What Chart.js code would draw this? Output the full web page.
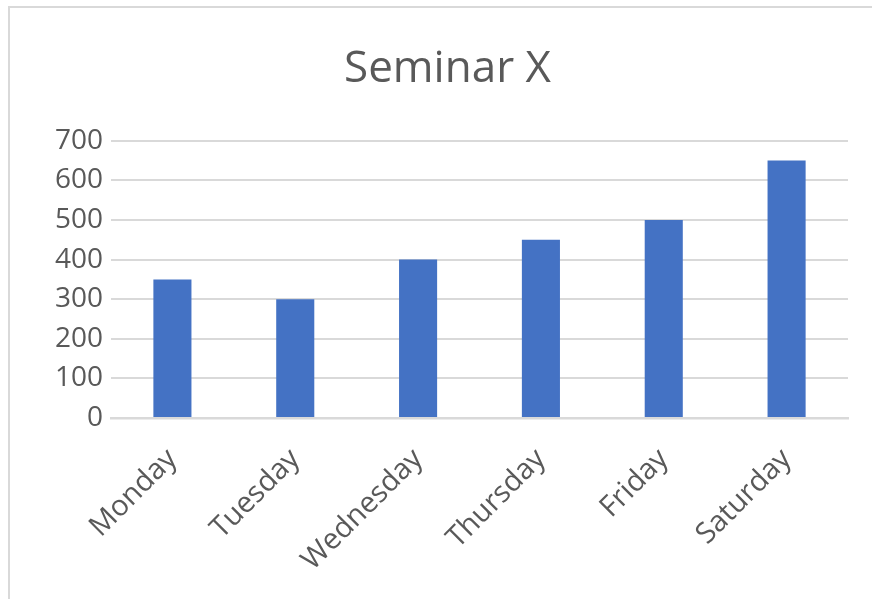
<!DOCTYPE html>
<html>
<head>
<meta charset="utf-8">
<script src="https://cdn.jsdelivr.net/npm/chart.js@4/dist/chart.umd.min.js"></script>
<style>
  body { margin: 0; background: #fff; overflow: hidden; }
  #frame { position: absolute; left: 8px; top: 6px; width: 900px; height: 700px;
           border: 2px solid #d9d9d9; box-sizing: border-box; }
  #wrap { position: absolute; left: 0; top: 0; width: 872px; height: 599px; }
</style>
</head>
<body>
<div id="frame"></div>
<div id="wrap"><canvas id="seminarChart" width="872" height="599"></canvas></div>
<script>
// chart data
var days = ["Monday", "Tuesday", "Wednesday", "Thursday", "Friday", "Saturday"];
var attendees = [350, 300, 400, 450, 500, 650];
var yTicks = [0, 100, 200, 300, 400, 500, 600, 700];

var textGray = '#595959';
var gridGray = '#d9d9d9';

var ctx = document.getElementById('seminarChart').getContext("2d");

var chart = new Chart(ctx, {
    type: 'bar',
    data: {
        labels: days,
        datasets: [{
            label: "Seminar X",
            data: attendees,
            backgroundColor: '#4472c4',
            barPercentage: 0.31,
            categoryPercentage: 1
        }]
    },
    options: {
        responsive: false,
        animation: false,
        layout: {
            padding: { left: 23, right: 0, top: 0, bottom: 0 }
        },
        plugins: {
            legend: { display: false },
            tooltip: { enabled: false },
            title: {
                display: true,
                text: 'Seminar X',
                color: textGray,
                font: { family: 'Open Sans', size: 44, weight: 'normal', lineHeight: 1.2 },
                padding: { top: 43, bottom: 45 }
            }
        },
        scales: {
            x: {
                grid: { display: false, drawTicks: false },
                border: { display: true, color: gridGray, width: 2.5 },
                ticks: {
                    color: textGray,
                    font: { family: 'Open Sans', size: 29 },
                    minRotation: 45,
                    maxRotation: 45,
                    padding: 24
                },
                afterFit: function(scale) { scale.height = 181; }
            },
            y: {
                min: 0,
                max: 700,
                border: { display: false },
                grid: { color: gridGray, lineWidth: 2, drawTicks: false },
                afterBuildTicks: function(scale) {
                    scale.ticks = yTicks.map(function(v) { return { value: v }; });
                },
                ticks: {
                    color: textGray,
                    font: { family: 'Open Sans', size: 28 },
                    padding: 8
                },
                afterFit: function(scale) { scale.width = 88; }
            },
            // empty right gutter so the plot ends where the reference does
            gutter: {
                position: 'right',
                min: 0,
                max: 700,
                grid: { display: false, drawTicks: false },
                border: { display: false },
                ticks: { display: false },
                afterFit: function(scale) { scale.width = 24; }
            }
        }
    }
});
</script>
</body>
</html>
